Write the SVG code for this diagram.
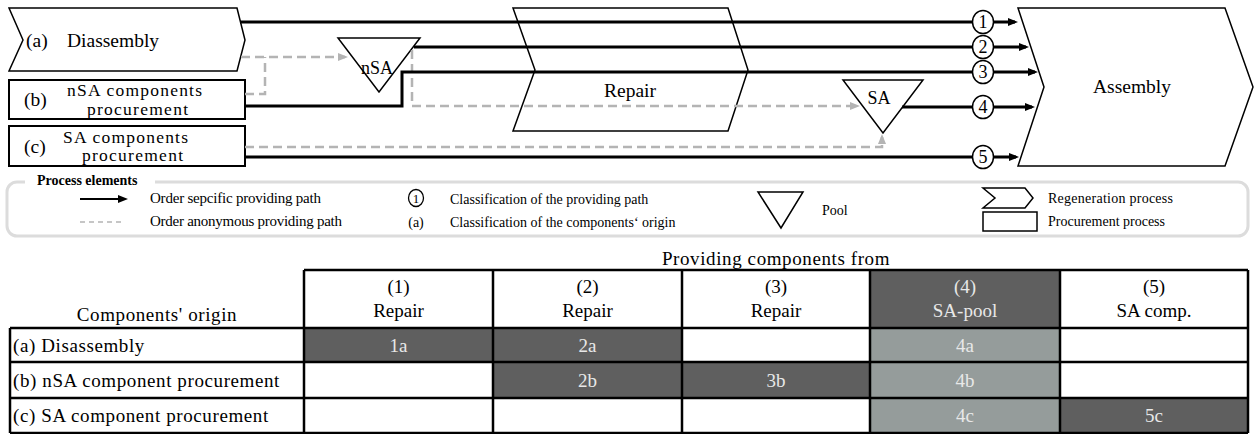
<svg xmlns="http://www.w3.org/2000/svg" width="1256" height="434" viewBox="0 0 1256 434" font-family="'Liberation Serif', 'Times New Roman', Tinos, 'DejaVu Serif', serif">
<style>
text{font-family:'Liberation Serif','Times New Roman',Tinos,'DejaVu Serif',serif;fill:#000}
.node{fill:#fff;stroke:#000;stroke-width:1.5}
.box{fill:#fff;stroke:#000;stroke-width:2}
.t19{font-size:19.5px}
.t17{font-size:17.5px}
.mid{text-anchor:middle}
.solid{fill:none;stroke:#000;stroke-width:3}
.dash{fill:none;stroke:#b4b4b4;stroke-width:2.5;stroke-dasharray:9 5}
.circ{fill:#fff;stroke:#000;stroke-width:1.5}
.num{font-size:18px;text-anchor:middle}
.leg{font-size:14px}
.leg15{font-size:15px}
.tb{font-size:19px}
.sp{letter-spacing:0.6px}
.grid{stroke:#000;stroke-width:2.5;fill:none}
.dk{fill:#5f5f5f}
.lt{fill:#959c9b}
.wt{fill:#e8e8e8}
</style>
<defs>
<marker id="ab" markerUnits="userSpaceOnUse" markerWidth="10" markerHeight="8" refX="7" refY="4" orient="auto"><path d="M0,0 L10,4 L0,8 z" fill="#000"/></marker>
<marker id="ag" markerUnits="userSpaceOnUse" markerWidth="10" markerHeight="8" refX="7" refY="4" orient="auto"><path d="M0,0 L10,4 L0,8 z" fill="#b4b4b4"/></marker>
</defs>
<rect width="1256" height="434" fill="#fff"/>

<g id="disassembly">
<polygon class="node" points="9,8 237,8 245,40 237,71 9,71 23,40"/>
<text class="t19" x="26" y="47">(a)</text>
<text class="t19" x="67" y="47">Diassembly</text>
</g>
<g id="nsa-procurement">
<rect class="box" x="9" y="80" width="236" height="39"/>
<text class="t19" x="24" y="106">(b)</text>
<text class="t17" x="67" y="96" textLength="135" lengthAdjust="spacing">nSA components</text>
<text class="t17" x="87" y="115" textLength="101" lengthAdjust="spacing">procurement</text>
</g>
<g id="sa-procurement">
<rect class="box" x="9" y="126" width="236" height="40"/>
<text class="t19" x="24" y="153">(c)</text>
<text class="t17" x="63" y="143" textLength="125" lengthAdjust="spacing">SA components</text>
<text class="t17" x="82" y="161" textLength="101" lengthAdjust="spacing">procurement</text>
</g>
<g id="nsa-pool">
<polygon class="node" points="338,38 420,38 379,92"/>
<text class="mid" x="377" y="74" font-size="18">nSA</text>
</g>
<g id="repair">
<polygon class="node" points="513,8 728,8 748,70 728,131 513,131 535,70"/>
<text class="t19 mid" x="630" y="97">Repair</text>
</g>
<g id="sa-pool">
<polygon class="node" points="843,80 923,80 883,133"/>
<text class="mid" x="879" y="104" font-size="18">SA</text>
</g>
<g id="assembly">
<polygon class="node" points="1018,8 1225,8 1253,87 1225,166 1018,166 1044,87"/>
<text class="t19 mid" x="1132" y="93">Assembly</text>
</g>

<g id="connectors">
<path class="dash" d="M241,57 H345" marker-end="url(#ag)"/>
<path class="dash" d="M245,94 H265 V57"/>
<path class="dash" d="M412,50 V106 H857" marker-end="url(#ag)"/>
<path class="dash" d="M245,147 H882 V137" marker-end="url(#ag)"/>
<path class="solid" d="M240,22 H1015" marker-end="url(#ab)"/>
<path class="solid" d="M414,47 H1026" marker-end="url(#ab)"/>
<path class="solid" d="M245,106 H402 V72 H1035" marker-end="url(#ab)"/>
<path class="solid" d="M902,107 H1032" marker-end="url(#ab)"/>
<path class="solid" d="M245,157 H1016" marker-end="url(#ab)"/>
<ellipse class="circ" cx="983" cy="22" rx="10.5" ry="11.5"/>
<text class="num" x="983" y="28">1</text>
<ellipse class="circ" cx="983" cy="47" rx="10.5" ry="11.5"/>
<text class="num" x="983" y="53">2</text>
<ellipse class="circ" cx="983" cy="72" rx="10.5" ry="11.5"/>
<text class="num" x="983" y="78">3</text>
<ellipse class="circ" cx="983" cy="107" rx="10.5" ry="11.5"/>
<text class="num" x="983" y="113">4</text>
<ellipse class="circ" cx="983" cy="157" rx="10.5" ry="11.5"/>
<text class="num" x="983" y="163">5</text>
</g>

<g id="legend">
<rect x="7" y="182" width="1241" height="54" rx="10" fill="none" stroke="#dcdcdc" stroke-width="3"/>
<rect x="25" y="174" width="130" height="14" fill="#fff"/>
<text x="37" y="185" font-size="14" font-weight="bold">Process elements</text>
<path d="M80,199 H125" stroke="#000" stroke-width="2" fill="none" marker-end="url(#ab)"/>
<path d="M80,222 H125" stroke="#b4b4b4" stroke-width="1.5" stroke-dasharray="5 4" fill="none"/>
<text class="leg15" x="150" y="203" textLength="171" lengthAdjust="spacing">Order sepcific providing path</text>
<text class="leg15" x="150" y="226" textLength="192" lengthAdjust="spacing">Order anonymous providing path</text>
<ellipse cx="416" cy="198" rx="7.5" ry="8.5" fill="#fff" stroke="#000" stroke-width="1.3"/>
<text class="mid" x="416" y="203" font-size="13">1</text>
<text class="leg mid" x="416" y="227">(a)</text>
<text class="leg" x="450" y="204">Classification of the providing path</text>
<text class="leg" x="450" y="227">Classification of the components‘ origin</text>
<polygon points="758,192 803,192 781,228" fill="none" stroke="#000" stroke-width="1.5"/>
<text class="leg" x="822" y="215">Pool</text>
<polygon points="983,188 1025,188 1033,198 1025,208 983,208 995,198" fill="none" stroke="#000" stroke-width="1.5"/>
<rect x="983" y="212" width="54" height="19" fill="none" stroke="#000" stroke-width="1.5"/>
<text class="leg" x="1048" y="203" textLength="125" lengthAdjust="spacing">Regeneration process</text>
<text class="leg" x="1048" y="226">Procurement process</text>
</g>

<g id="table">
<rect class="dk" x="304" y="328" width="189" height="34"/>
<rect class="dk" x="493" y="328" width="189" height="34"/>
<rect class="dk" x="493" y="362" width="189" height="36"/>
<rect class="dk" x="682" y="362" width="188" height="36"/>
<rect class="dk" x="870" y="270" width="190" height="58"/>
<rect class="dk" x="1060" y="398" width="188" height="35"/>
<rect class="lt" x="870" y="328" width="190" height="34"/>
<rect class="lt" x="870" y="362" width="190" height="36"/>
<rect class="lt" x="870" y="398" width="190" height="35"/>
<path class="grid" d="M304,270 H1248 M10,328 H1248 M10,362 H1248 M10,398 H1248 M10,433 H1248 M10,328 V433 M304,270 V433 M493,270 V433 M682,270 V433 M870,270 V433 M1060,270 V433 M1248,270 V433"/>
<text class="tb mid sp" x="776" y="265">Providing components from</text>
<text class="tb mid sp" x="157" y="321">Components' origin</text>
<text class="tb mid" x="398.5" y="293">(1)</text>
<text class="tb mid" x="398.5" y="317">Repair</text>
<text class="tb mid" x="587.5" y="293">(2)</text>
<text class="tb mid" x="587.5" y="317">Repair</text>
<text class="tb mid" x="776" y="293">(3)</text>
<text class="tb mid" x="776" y="317">Repair</text>
<text class="tb mid wt" x="965" y="293">(4)</text>
<text class="tb mid wt" x="965" y="317">SA-pool</text>
<text class="tb mid" x="1154" y="293">(5)</text>
<text class="tb mid" x="1154" y="317">SA comp.</text>
<text class="tb sp" x="13" y="352">(a) Disassembly</text>
<text class="tb sp" x="13" y="387">(b) nSA component procurement</text>
<text class="tb sp" x="13" y="422">(c) SA component procurement</text>
<text class="tb mid wt" x="398.5" y="352">1a</text>
<text class="tb mid wt" x="587.5" y="352">2a</text>
<text class="tb mid wt" x="965" y="352">4a</text>
<text class="tb mid wt" x="587.5" y="387">2b</text>
<text class="tb mid wt" x="776" y="387">3b</text>
<text class="tb mid wt" x="965" y="387">4b</text>
<text class="tb mid wt" x="965" y="422">4c</text>
<text class="tb mid wt" x="1154" y="422">5c</text>
</g>
</svg>
